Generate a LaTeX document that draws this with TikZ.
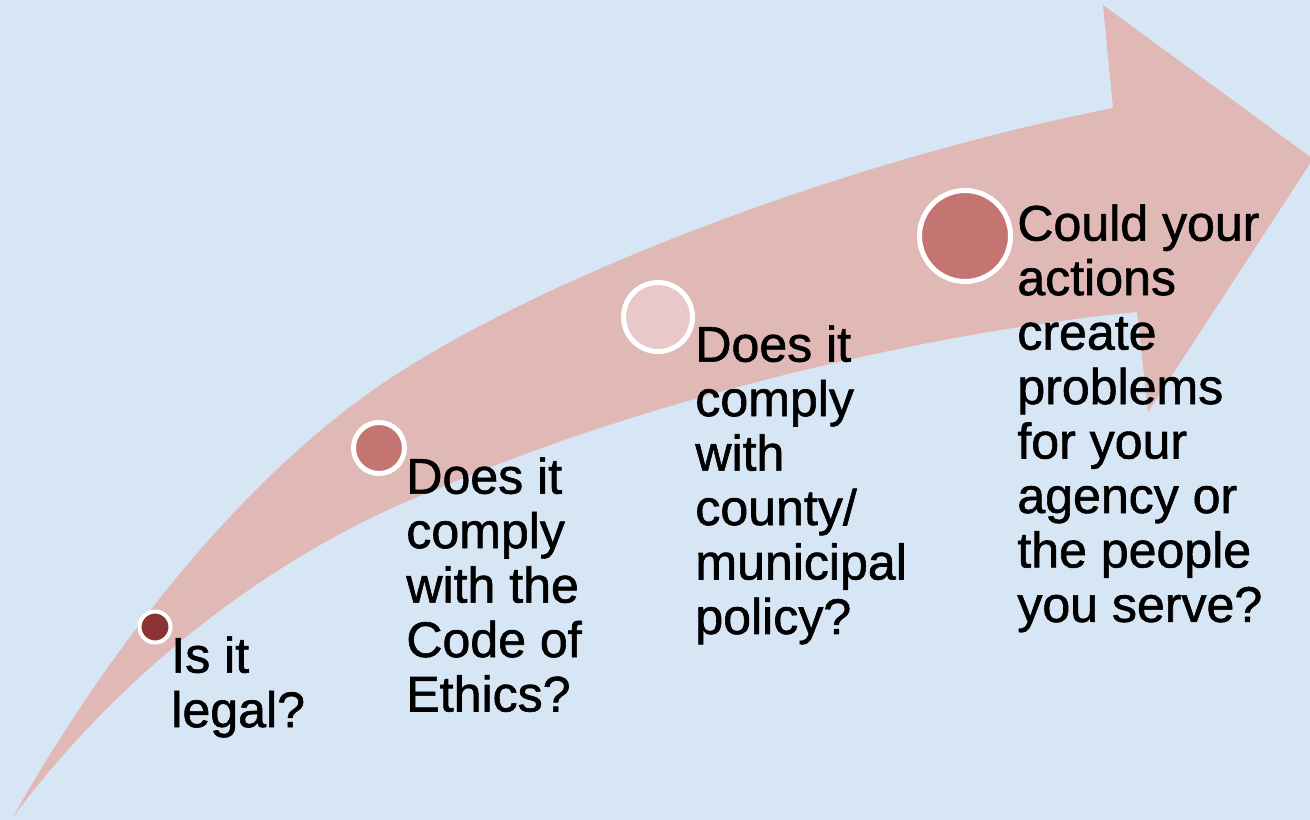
\documentclass[tikz,border=0pt]{standalone}
\usepackage{fontspec}
\setmainfont{Liberation Sans}
\newfontfamily\stepfont{Liberation Sans}[FakeBold=1.2]
\usepackage{xcolor}
\usetikzlibrary{positioning}
\definecolor{bgblue}{HTML}{D6E6F5}
\definecolor{arrowpink}{HTML}{E0B9B6}
\definecolor{darkred}{HTML}{8C3434}
\definecolor{rosedot}{HTML}{C47572}
\definecolor{palerose}{HTML}{E8C8C8}

\begin{document}
\begin{tikzpicture}[x=0.02cm,y=-0.02cm,
    dot/.style={circle,draw=white,line width=0.1cm,inner sep=0pt},
    question/.style={anchor=north west,inner sep=0pt,align=left,
        font=\stepfont\fontsize{28.5}{31}\selectfont}]
    % Background
    \clip (0,0) rectangle (1310,820);
    \fill[bgblue] (0,0) rectangle (1310,820);

    % Curved arrow
    \fill[arrowpink] (13,817) .. controls (90,680) and (230,480) .. (400,372)
        .. controls (560,270) and (850,160) .. (1113,108)
        -- (1103,5) -- (1313,159) -- (1148,412) -- (1137,312)
        .. controls (900,335) and (620,410) .. (440,488)
        .. controls (290,545) and (130,660) .. cycle;

    % Steps
    \node[dot,fill=darkred,line width=0.08cm,minimum size=0.62cm] (c1) at (155,627) {};
    \node[dot,fill=rosedot,minimum size=1.02cm] (c2) at (379,448) {};
    \node[dot,fill=palerose,minimum size=1.38cm] (c3) at (658,317) {};
    \node[dot,fill=rosedot,minimum size=1.82cm] (c4) at (965,236) {};

    % Labels
    \node[question] (q1) at (171,636) {Is it\\legal?};
    \node[question] (q2) at (406,457) {Does it\\comply\\with the\\Code of\\Ethics?};
    \node[question] (q3) at (695,325) {Does it\\comply\\with\\county/\\municipal\\policy?};
    \node[question] (q4) at (1017,204) {Could your\\actions\\create\\problems\\for your\\agency or\\the people\\you serve?};
\end{tikzpicture}
\end{document}
